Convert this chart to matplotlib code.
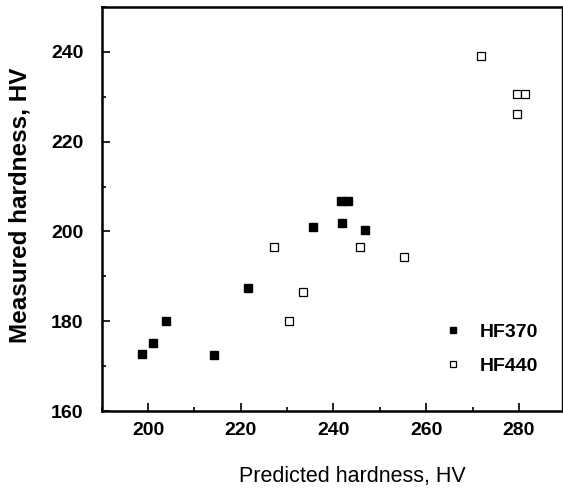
import matplotlib
matplotlib.use("Agg")
import matplotlib.pyplot as plt
from matplotlib.ticker import MultipleLocator
from matplotlib import font_manager

hf370_pred = [198.8, 201.1, 203.8, 214.2, 221.6, 235.5, 241.9, 241.7, 243.2, 246.9]
hf370_meas = [172.6, 175.2, 180.1, 172.4, 187.5, 201.0, 201.9, 206.8, 206.8, 200.3]
hf440_pred = [227.1, 233.4, 230.4, 245.7, 255.2, 271.8, 279.6, 281.4, 279.7]
hf440_meas = [196.5, 186.6, 180.1, 196.5, 194.4, 239.1, 230.6, 230.6, 226.1]
xticks = [200, 220, 240, 260, 280]
yticks = [160, 180, 200, 220, 240]

names = {f.name for f in font_manager.fontManager.ttflist}
narrow = 'Liberation Sans Narrow' if 'Liberation Sans Narrow' in names else 'Liberation Sans'
tick_size = 16 if narrow == 'Liberation Sans Narrow' else 14
plt.rcParams['font.family'] = ['Liberation Sans', 'DejaVu Sans']

W, H = 563, 490
fig = plt.figure(figsize=(W / 100, H / 100), dpi=100)
L, R, B, T = 101.7, 562, 411, 7
ax = fig.add_axes([L / W, 1 - B / H, (R - L) / W, (B - T) / H])

ax.plot(hf370_pred, hf370_meas, 's', ms=5.5, mfc='black', mec='black', ls='none', label='HF370')
ax.plot(hf440_pred, hf440_meas, 's', ms=5.5, mfc='white', mec='black', mew=0.9, ls='none', label='HF440')

ax.set_xlim(190, 289.3)
ax.set_ylim(160, 250)
ax.set_xticks(xticks)
ax.set_yticks(yticks)
ax.xaxis.set_minor_locator(MultipleLocator(10))
ax.yaxis.set_minor_locator(MultipleLocator(10))
ax.tick_params(which='both', direction='in', top=False, right=False, width=1.2)
ax.tick_params(which='major', length=6)
ax.tick_params(which='minor', length=3)
for lab in ax.get_xticklabels() + ax.get_yticklabels():
    lab.set_fontsize(tick_size)
    lab.set_fontweight('bold')
    lab.set_family([narrow, 'Liberation Sans', 'DejaVu Sans'])
ax.tick_params(axis='x', pad=8)
ax.tick_params(axis='y', pad=13)
for s in ax.spines.values():
    s.set_linewidth(1.8)
ax.spines['right'].set_linewidth(1.0)

fig.text(352 / W, 1 - 476 / H, 'Predicted hardness, HV', fontsize=15.5,
         ha='center', va='center')
fig.text(20 / W, 1 - 205 / H, 'Measured hardness, HV', fontsize=17.5, fontweight='bold',
         ha='center', va='center', rotation=90)

leg = ax.legend(loc='center left', bbox_to_anchor=((443 - L) / (R - L), (B - 349) / (B - T)),
                frameon=False, borderaxespad=0, borderpad=0,
                prop={'family': [narrow, 'Liberation Sans'], 'weight': 'bold', 'size': tick_size},
                handlelength=1.0, handletextpad=0.9, labelspacing=0.86, markerscale=0.75)

fig.savefig('out.png', dpi=100)
